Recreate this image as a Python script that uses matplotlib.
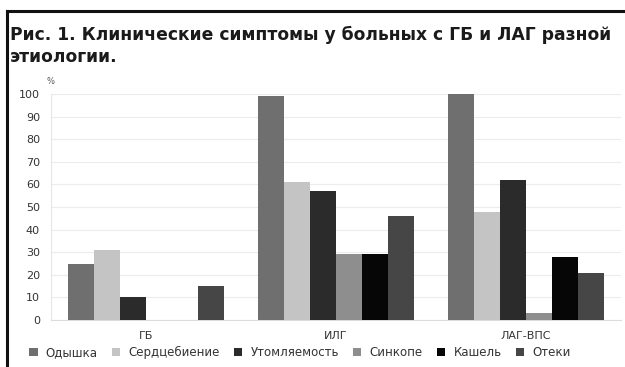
import matplotlib
matplotlib.use("Agg")
import matplotlib.pyplot as plt
import numpy as np
from matplotlib.lines import Line2D

groups = ["ГБ", "ИЛГ", "ЛАГ-ВПС"]
symptoms = ["Одышка", "Сердцебиение", "Утомляемость", "Синкопе", "Кашель", "Отеки"]
dyspnea = [25, 99, 100]
palpitations = [31, 61, 48]
fatigue = [10, 57, 62]
syncope = [0, 29, 3]
cough = [0, 29, 28]
edema = [15, 46, 21]
colors = ["#6f6f6f", "#c4c4c4", "#2b2b2b", "#8e8e8e", "#060606", "#464646"]

series = [dyspnea, palpitations, fatigue, syncope, cough, edema]

plt.rcParams["font.family"] = ["DejaVu Sans"]

fig = plt.figure(figsize=(6.25, 3.67), dpi=100)
ax = fig.add_axes([0.0816, 0.128, 0.912, 0.616])

x = np.arange(len(groups))
width = 0.137
for i, (vals, name, col) in enumerate(zip(series, symptoms, colors)):
    ax.bar(x + (i - 2.5) * width, vals, width, color=col, label=name, zorder=3)

ax.set_xlim(-0.5, 2.5)
ax.set_ylim(0, 100)
ax.set_yticks(range(0, 101, 10))
ax.set_xticks(x)
ax.set_xticklabels(groups)
ax.tick_params(axis="both", length=0, labelsize=8, colors="#333333")
ax.tick_params(axis="y", pad=8)
ax.tick_params(axis="x", pad=8)
ax.grid(axis="y", color="#ececec", linewidth=0.8, zorder=0)
for side in ["top", "right"]:
    ax.spines[side].set_visible(False)
ax.spines["left"].set_color("#e6e6e6")
ax.spines["bottom"].set_color("#dcdcdc")

fig.text(0.074, 0.77, "%", fontsize=6, color="#555555")

fig.text(0.016, 0.93,
         "Рис. 1. Клинические симптомы у больных с ГБ и ЛАГ разной\nэтиологии.",
         fontsize=12.3, fontweight="bold", color="#1a1a1a", va="top",
         linespacing=1.28)

fig.legend(loc="center", bbox_to_anchor=(0.48, 0.04), ncol=6, frameon=False,
           fontsize=8.5, handlelength=0.7, handleheight=0.7, handletextpad=0.7,
           columnspacing=1.2, labelcolor="#333333")

# frame lines
fig.add_artist(Line2D([0.0112, 1.0], [0.970, 0.970], color="#111111", lw=2.2))
fig.add_artist(Line2D([0.0112, 0.0112], [0.0, 0.970], color="#111111", lw=2.2))

fig.savefig("out.png", dpi=100)
